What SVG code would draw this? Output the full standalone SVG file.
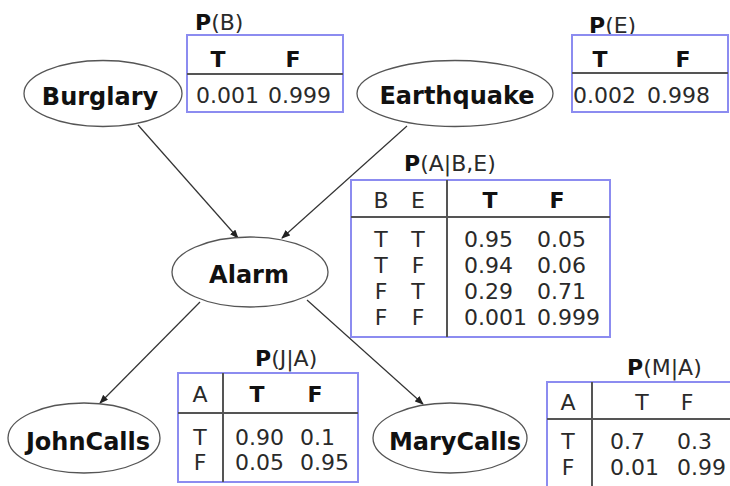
<svg xmlns="http://www.w3.org/2000/svg" width="730" height="486" viewBox="0 0 730 486">
<defs>
<style>
.node ellipse{fill:#fff;stroke:#555;stroke-width:1.3}
.node text{font-family:"DejaVu Sans",Verdana,sans-serif;font-weight:bold;font-size:24px;fill:#111;text-anchor:middle}
.box{fill:#fff;stroke:#8c8cf0;stroke-width:2}
.sep{stroke:#555;stroke-width:2}
.t{font-family:"DejaVu Sans",Verdana,sans-serif;font-size:22px;fill:#2a2a2a}
.c{text-anchor:middle}
.b{font-weight:bold;fill:#111}
.lbl{font-family:"DejaVu Sans",Verdana,sans-serif;font-size:22px;fill:#2a2a2a}
.edge{stroke:#333;stroke-width:1.2;fill:none;marker-end:url(#arr)}
</style>
<marker id="arr" markerUnits="userSpaceOnUse" markerWidth="9" markerHeight="7" refX="8" refY="3.5" orient="auto">
<path d="M0,0 L9,3.5 L0,7 z" fill="#222"/>
</marker>
</defs>
<rect width="730" height="486" fill="#fff"/>

<g id="connectors">
<line class="edge" x1="138" y1="125" x2="238" y2="238"/>
<line class="edge" x1="407" y1="126" x2="282" y2="238"/>
<line class="edge" x1="200" y1="302" x2="100" y2="403"/>
<line class="edge" x1="307" y1="300" x2="423" y2="404"/>
</g>

<g id="burglary" class="node">
<ellipse cx="103" cy="93.5" rx="79" ry="33"/>
<text x="100" y="105">Burglary</text>
</g>
<g id="earthquake" class="node">
<ellipse cx="455" cy="93.5" rx="98" ry="33"/>
<text x="457" y="104">Earthquake</text>
</g>
<g id="alarm" class="node">
<ellipse cx="250" cy="272" rx="78" ry="35"/>
<text x="249" y="283">Alarm</text>
</g>
<g id="johncalls" class="node">
<ellipse cx="84" cy="438" rx="76" ry="35"/>
<text x="88" y="450">JohnCalls</text>
</g>
<g id="marycalls" class="node">
<ellipse cx="450" cy="438" rx="77" ry="35"/>
<text x="455" y="450">MaryCalls</text>
</g>

<g id="cpt-b">
<text class="lbl" x="195" y="30"><tspan font-weight="bold" fill="#111">P</tspan>(B)</text>
<rect class="box" x="187" y="35" width="156" height="77"/>
<line class="sep" x1="187" y1="74" x2="343" y2="74"/>
<text class="t c b" x="218" y="67">T</text>
<text class="t c b" x="293" y="67">F</text>
<text class="t" x="196" y="103">0.001</text>
<text class="t" x="268" y="103">0.999</text>
</g>

<g id="cpt-e">
<text class="lbl" x="589" y="33"><tspan font-weight="bold" fill="#111">P</tspan>(E)</text>
<rect class="box" x="572" y="35" width="156" height="77"/>
<line class="sep" x1="572" y1="73" x2="728" y2="73"/>
<text class="t c b" x="600" y="67">T</text>
<text class="t c b" x="683" y="67">F</text>
<text class="t" x="573" y="103">0.002</text>
<text class="t" x="647" y="103">0.998</text>
</g>

<g id="cpt-a">
<text class="lbl" x="404" y="171"><tspan font-weight="bold" fill="#111">P</tspan>(A|B,E)</text>
<rect class="box" x="351" y="180" width="259" height="157"/>
<line class="sep" x1="351" y1="217" x2="610" y2="217"/>
<line class="sep" x1="447" y1="180" x2="447" y2="337"/>
<text class="t c" x="381" y="208">B</text>
<text class="t c" x="418" y="208">E</text>
<text class="t c b" x="490" y="208">T</text>
<text class="t c b" x="557" y="208">F</text>
<text class="t c" x="381" y="247">T</text><text class="t c" x="418" y="247">T</text>
<text class="t" x="464" y="247">0.95</text><text class="t" x="537" y="247">0.05</text>
<text class="t c" x="381" y="273">T</text><text class="t c" x="418" y="273">F</text>
<text class="t" x="464" y="273">0.94</text><text class="t" x="537" y="273">0.06</text>
<text class="t c" x="381" y="299">F</text><text class="t c" x="418" y="299">T</text>
<text class="t" x="464" y="299">0.29</text><text class="t" x="537" y="299">0.71</text>
<text class="t c" x="381" y="325">F</text><text class="t c" x="418" y="325">F</text>
<text class="t" x="464" y="325">0.001</text><text class="t" x="537" y="325">0.999</text>
</g>

<g id="cpt-j">
<text class="lbl" x="255" y="366"><tspan font-weight="bold" fill="#111">P</tspan>(J|A)</text>
<rect class="box" x="178" y="373" width="180" height="109"/>
<line class="sep" x1="178" y1="413" x2="358" y2="413"/>
<line class="sep" x1="223" y1="373" x2="223" y2="482"/>
<text class="t c" x="200" y="402">A</text>
<text class="t c b" x="257" y="402">T</text>
<text class="t c b" x="315" y="402">F</text>
<text class="t c" x="200" y="445">T</text>
<text class="t" x="235" y="445">0.90</text><text class="t" x="300" y="445">0.1</text>
<text class="t c" x="200" y="470">F</text>
<text class="t" x="235" y="470">0.05</text><text class="t" x="300" y="470">0.95</text>
</g>

<g id="cpt-m">
<text class="lbl" x="627" y="375"><tspan font-weight="bold" fill="#111">P</tspan>(M|A)</text>
<rect class="box" x="547" y="382" width="200" height="120"/>
<line class="sep" x1="547" y1="419" x2="747" y2="419"/>
<line class="sep" x1="592" y1="382" x2="592" y2="502"/>
<text class="t c" x="568" y="410">A</text>
<text class="t c" x="642" y="410">T</text>
<text class="t c" x="687" y="410">F</text>
<text class="t c" x="568" y="449">T</text>
<text class="t" x="610" y="449">0.7</text><text class="t" x="677" y="449">0.3</text>
<text class="t c" x="568" y="475">F</text>
<text class="t" x="610" y="475">0.01</text><text class="t" x="677" y="475">0.99</text>
</g>
</svg>
